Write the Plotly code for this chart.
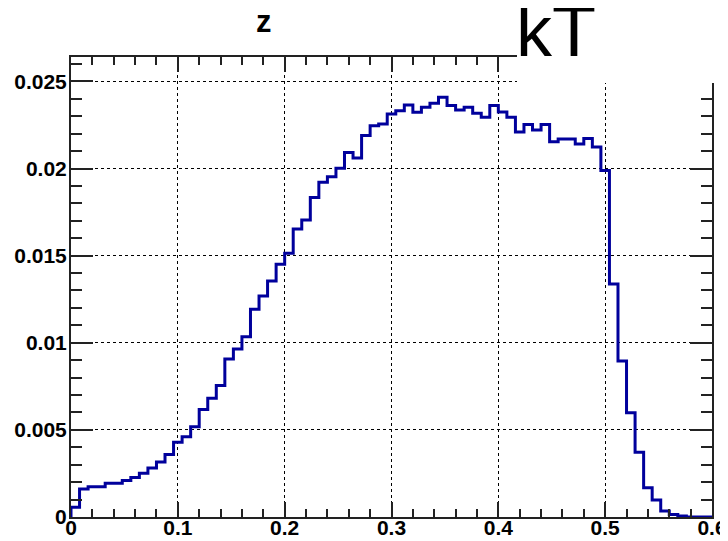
import plotly.graph_objects as go

# histogram of z: 75 bins from 0 to 0.6
bin_low = 0.0
bin_width = 0.008
counts = [
    0.00056, 0.00161, 0.00174, 0.00174, 0.00193, 0.00193, 0.00210, 0.00226, 0.00251, 0.00281,
    0.00316, 0.00358, 0.00429, 0.00461, 0.00518, 0.00617, 0.00681, 0.00754, 0.00907, 0.00964,
    0.01035, 0.01192, 0.01269, 0.01355, 0.01450, 0.01514, 0.01653, 0.01705, 0.01833, 0.01921,
    0.01953, 0.02001, 0.02092, 0.02060, 0.02189, 0.02246, 0.02256, 0.02313, 0.02332, 0.02365,
    0.02323, 0.02352, 0.02375, 0.02409, 0.02361, 0.02336, 0.02352, 0.02317, 0.02294, 0.02361,
    0.02325, 0.02294, 0.02210, 0.02252, 0.02221, 0.02253, 0.02154, 0.02170, 0.02170, 0.02141,
    0.02172, 0.02124, 0.01988, 0.01337, 0.00895, 0.00599, 0.00371, 0.00168, 0.00098, 0.00034,
    0.00015, 0.00006, 0.0, 0.0, 0.0,
]
x_range = [0, 0.6]
y_range = [0, 0.0264]
title_text = "z"
corner_text = "kT"

n = len(counts)
edges = [bin_low + i * bin_width for i in range(n + 1)]
xs = [edges[0]] + edges
ys = [0.0] + counts + [0.0]

fig = go.Figure()
fig.add_trace(go.Scatter(
    x=xs, y=ys, mode="lines", line=dict(shape="hv", color="#00009c", width=3),
    showlegend=False, hoverinfo="skip", cliponaxis=False,
))

tickfont = dict(family="Liberation Sans, Arial, sans-serif", size=21, color="black", weight="bold")

fig.update_xaxes(
    range=x_range, dtick=0.1, tick0=0, showline=True, linecolor="#222", linewidth=2,
    mirror="ticks", ticks="inside", ticklen=15, tickwidth=2, tickcolor="#222",
    showgrid=True, gridcolor="black", griddash="dot", gridwidth=1, zeroline=False,
    tickfont=tickfont, automargin=False, ticklabelstandoff=-9,
    minor=dict(dtick=0.02, ticks="inside", ticklen=8, tickwidth=2, tickcolor="#222", showgrid=False),
)
fig.update_yaxes(
    range=y_range, dtick=0.005, tick0=0, showline=True, linecolor="#222", linewidth=2,
    mirror="ticks", ticks="inside", ticklen=22, tickwidth=2, tickcolor="#222",
    showgrid=True, gridcolor="black", griddash="dot", gridwidth=1, zeroline=False,
    tickfont=tickfont, automargin=False, ticklabelstandoff=-2,
    minor=dict(dtick=0.001, ticks="inside", ticklen=11, tickwidth=2, tickcolor="#222", showgrid=False),
)

# page body has an 8px margin: figure origin sits at (8, 8) in the window
OFF = 8
W, H = 720, 533
L, R, T, B = 63, 16, 49, 24
pw, ph = W - L - R, H - T - B

def px_x(p):
    return (p - OFF - L) / pw

def px_y(p):
    return (H - B - (p - OFF)) / ph

fig.add_shape(type="rect", xref="paper", yref="paper",
              x0=px_x(517), x1=px_x(740), y0=px_y(83), y1=px_y(-10),
              fillcolor="white", line=dict(width=0), layer="above")

fig.add_annotation(text=title_text, xref="paper", yref="paper", x=px_x(264), y=px_y(21),
                   showarrow=False, xanchor="center", yanchor="middle",
                   font=dict(family="Liberation Sans, Arial, sans-serif", size=31, color="black", weight="bold"))
fig.add_annotation(text=corner_text, xref="paper", yref="paper", x=px_x(556), y=px_y(31),
                   showarrow=False, xanchor="center", yanchor="middle",
                   font=dict(family="Liberation Sans, Arial, sans-serif", size=72, color="black"))

fig.update_layout(
    width=W, height=H, margin=dict(l=L, r=R, t=T, b=B),
    paper_bgcolor="white", plot_bgcolor="white",
)

fig.write_html("out.html")
